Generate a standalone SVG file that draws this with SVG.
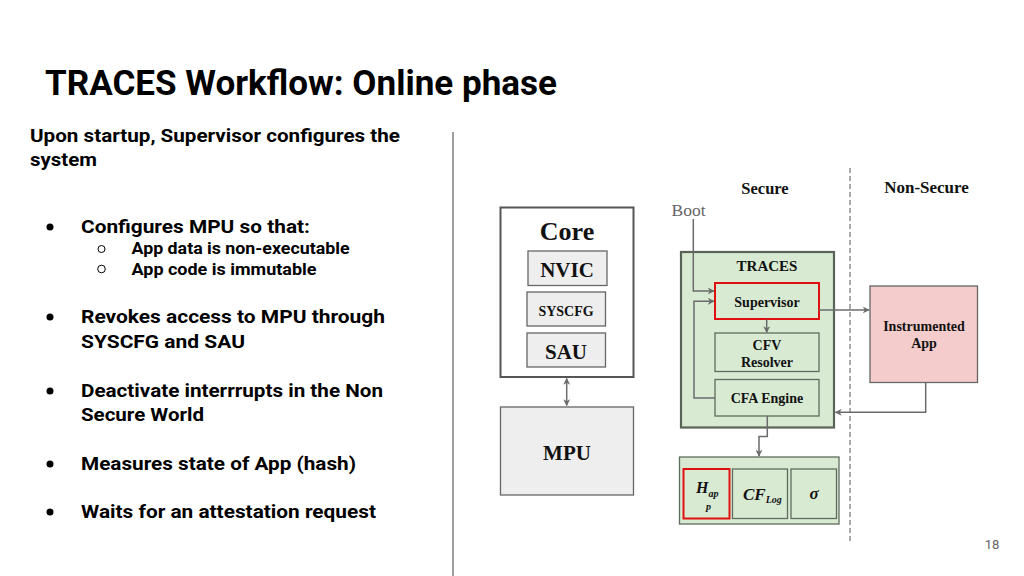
<svg xmlns="http://www.w3.org/2000/svg" width="1024" height="576" viewBox="0 0 1024 576">
<style>
.rb{font-family:Roboto,"Liberation Sans",sans-serif;font-weight:bold;fill:#000}
.t{font-family:"Liberation Serif","Times New Roman",serif;font-weight:bold;fill:#111;text-anchor:middle}
.box{fill:#eeeeee;stroke:#666;stroke-width:1.3}
.green{fill:#d9ead3;stroke:#5f6b5d;stroke-width:1.3}
.red{fill:#d9ead3;stroke:#e01010;stroke-width:2}
.ln{fill:none;stroke:#6b6b6b;stroke-width:1.5}
</style>
<defs>
<marker id="ah" viewBox="0 0 10 10" refX="9" refY="5" markerWidth="7" markerHeight="7" orient="auto-start-reverse" markerUnits="userSpaceOnUse">
<path d="M0,0 L10,5 L0,10 L3,5 Z" fill="#6b6b6b"/>
</marker>
</defs>
<rect width="1024" height="576" fill="#fff"/>

<text class="rb" x="45" y="95" font-size="35" textLength="512" lengthAdjust="spacingAndGlyphs">TRACES Workflow: Online phase</text>
<g id="left-text">
<text class="rb" x="30" y="142" font-size="19" textLength="370" lengthAdjust="spacingAndGlyphs">Upon startup, Supervisor configures the</text>
<text class="rb" x="30" y="166" font-size="19" textLength="67" lengthAdjust="spacingAndGlyphs">system</text>
<circle cx="50" cy="227" r="3.5" fill="#000"/>
<text class="rb" x="81" y="233" font-size="19" textLength="229" lengthAdjust="spacingAndGlyphs">Configures MPU so that:</text>
<circle cx="101.5" cy="249" r="3.5" fill="none" stroke="#000" stroke-width="1"/>
<text class="rb" x="131.5" y="254" font-size="16.5" textLength="218" lengthAdjust="spacingAndGlyphs">App data is non-executable</text>
<circle cx="101.5" cy="269" r="3.8" fill="none" stroke="#000" stroke-width="1"/>
<text class="rb" x="131.5" y="275" font-size="16.5" textLength="185" lengthAdjust="spacingAndGlyphs">App code is immutable</text>
<circle cx="50" cy="317" r="3.5" fill="#000"/>
<text class="rb" x="81" y="323" font-size="19" textLength="304" lengthAdjust="spacingAndGlyphs">Revokes access to MPU through</text>
<text class="rb" x="81" y="348" font-size="19" textLength="164" lengthAdjust="spacingAndGlyphs">SYSCFG and SAU</text>
<circle cx="50" cy="391" r="3.5" fill="#000"/>
<text class="rb" x="81" y="397" font-size="19" textLength="302" lengthAdjust="spacingAndGlyphs">Deactivate interrrupts in the Non</text>
<text class="rb" x="81" y="421" font-size="19" textLength="123" lengthAdjust="spacingAndGlyphs">Secure World</text>
<circle cx="50" cy="464" r="3.5" fill="#000"/>
<text class="rb" x="81" y="470" font-size="19" textLength="275" lengthAdjust="spacingAndGlyphs">Measures state of App (hash)</text>
<circle cx="50" cy="512" r="3.5" fill="#000"/>
<text class="rb" x="81" y="518" font-size="19" textLength="295" lengthAdjust="spacingAndGlyphs">Waits for an attestation request</text>
</g>
<line x1="453" y1="132" x2="453" y2="576" stroke="#9e9e9e" stroke-width="2"/>
<text x="992" y="549" font-family="Roboto,'Liberation Sans',sans-serif" font-size="13" fill="#666" text-anchor="middle">18</text>

<line x1="850" y1="168" x2="850" y2="542" stroke="#555" stroke-width="1" stroke-dasharray="5,3"/>
<text class="t" x="765" y="194" font-size="16.5">Secure</text>
<text class="t" x="926.5" y="192.5" font-size="17">Non-Secure</text>
<text x="688.5" y="216" font-family="'Liberation Serif',serif" font-size="17.5" fill="#666" text-anchor="middle">Boot</text>

<g id="core">
<rect x="500.5" y="207.5" width="133" height="169.5" fill="#fff" stroke="#555" stroke-width="2"/>
<text class="t" x="567" y="240" font-size="26">Core</text>
</g>
<g id="nvic"><rect class="box" x="528" y="251" width="79" height="34.5"/><text class="t" x="567" y="276.5" font-size="21">NVIC</text></g>
<g id="syscfg"><rect class="box" x="527" y="292" width="78.5" height="34"/><text class="t" x="566" y="315.5" font-size="14">SYSCFG</text></g>
<g id="sau"><rect class="box" x="527" y="333" width="78.5" height="34"/><text class="t" x="566" y="359" font-size="21">SAU</text></g>
<g id="mpu"><rect class="box" x="500.5" y="407" width="133" height="88"/><text class="t" x="567" y="460" font-size="21">MPU</text></g>

<g id="traces"><rect x="681" y="252" width="153" height="175.5" fill="#d9ead3" stroke="#5a6358" stroke-width="2.2"/><text class="t" x="767" y="271" font-size="15">TRACES</text></g>
<g id="supervisor"><rect class="red" x="715" y="283" width="104" height="36"/><text class="t" x="767" y="307" font-size="14">Supervisor</text></g>
<g id="cfv"><rect class="green" x="715" y="333" width="104" height="38.5"/><text class="t" x="767" y="350" font-size="14">CFV</text><text class="t" x="767" y="366.5" font-size="14">Resolver</text></g>
<g id="cfa"><rect class="green" x="715" y="379.5" width="104" height="36.5"/><text class="t" x="767" y="403" font-size="14">CFA Engine</text></g>
<g id="app"><rect x="870" y="286" width="107.5" height="96.5" fill="#f4cccc" stroke="#666" stroke-width="1.3"/><text class="t" x="924" y="331" font-size="14">Instrumented</text><text class="t" x="924" y="348" font-size="14">App</text></g>

<g id="storage"><rect class="green" x="679.5" y="457" width="159.5" height="67"/></g>
<g id="happ"><rect x="683.5" y="469" width="46" height="49.5" fill="#d9ead3" stroke="#e01010" stroke-width="2"/>
<text x="696" y="493" font-family="'Liberation Serif',serif" font-weight="bold" font-style="italic" font-size="16" fill="#111">H<tspan font-size="10" dy="3.5">ap</tspan></text>
<text x="706" y="509.5" font-family="'Liberation Serif',serif" font-weight="bold" font-style="italic" font-size="10" fill="#111">p</text></g>
<g id="cflog"><rect class="green" x="732.5" y="469" width="55" height="49.5"/>
<text x="743" y="499.5" font-family="'Liberation Serif',serif" font-weight="bold" font-style="italic" font-size="17" fill="#111">CF<tspan font-size="10" dy="3">Log</tspan></text></g>
<g id="sigma"><rect class="green" x="791" y="469" width="45.5" height="49.5"/>
<text x="814" y="498.5" font-family="'Liberation Serif',serif" font-weight="bold" font-style="italic" font-size="17" fill="#111" text-anchor="middle">σ</text></g>

<g id="connectors">
<line class="ln" x1="566.7" y1="378.5" x2="566.7" y2="405.5" marker-start="url(#ah)" marker-end="url(#ah)"/>
<path class="ln" d="M693.3,219 V291 H714" marker-end="url(#ah)"/>
<path class="ln" d="M715,398 H694 V301.3 H714" marker-end="url(#ah)"/>
<line class="ln" x1="766.7" y1="319.5" x2="766.7" y2="332.5" marker-end="url(#ah)"/>
<line class="ln" x1="819" y1="310" x2="869" y2="310" marker-end="url(#ah)"/>
<path class="ln" d="M925.7,382.5 V412.3 H835.5" marker-end="url(#ah)"/>
<path class="ln" d="M767.3,416 V436.5 H759 V456" marker-end="url(#ah)"/>
</g>
</svg>
